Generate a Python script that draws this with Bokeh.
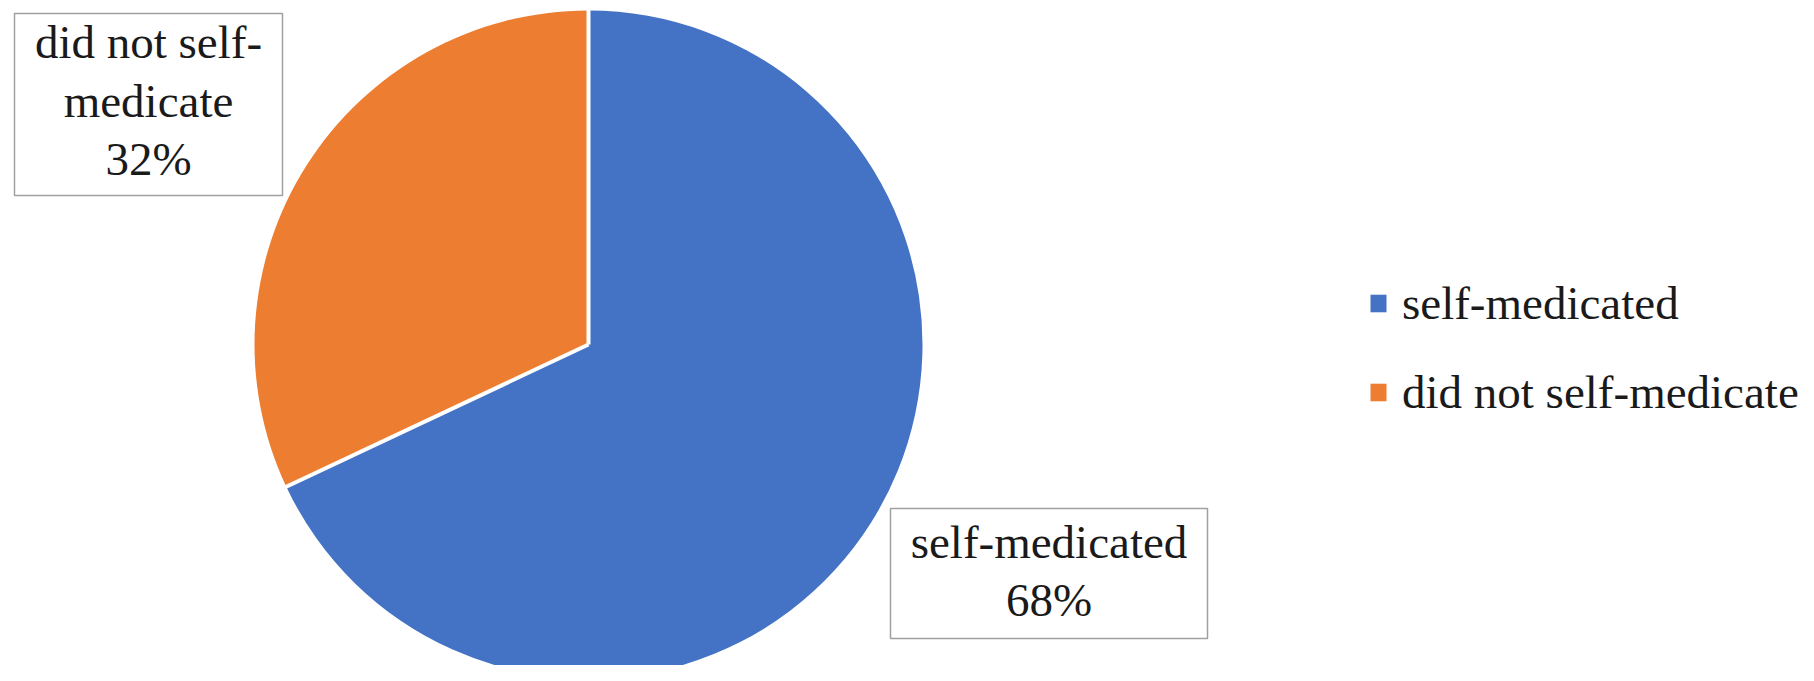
import numpy as np
from bokeh.plotting import figure
from bokeh.models import ColumnDataSource, Range1d, Legend, LegendItem
from bokeh.core.properties import value
from bokeh.embed import file_html
from bokeh.resources import INLINE

# ---- data ----
categories = ["self-medicated", "did not self-medicate"]
percents = [68, 32]
colors = ["#4472C4", "#ED7D31"]
label_texts = ["self-medicated", "did not self-\nmedicate"]

# ---- layout (pixels) ----
W, H = 1798, 665
cx, cy, R = 588, 321, 334
box_cx = [1048.5, 148]
box_cy = [92, 561]
box_w = [317, 268]
box_h = [130, 182]
text_cy = [94.5, 565]
FONT = "Liberation Serif"

fr = np.array(percents, dtype=float) / sum(percents)
before = np.concatenate([[0.0], np.cumsum(fr)[:-1]])
end_a = np.pi / 2 - before * 2 * np.pi
start_a = end_a - fr * 2 * np.pi

src = ColumnDataSource(dict(
    cat=categories, pct=percents, color=colors,
    start=start_a, end=end_a,
    x=[cx] * len(categories), y=[cy] * len(categories),
))

p = figure(width=W, height=H, x_range=Range1d(0, W), y_range=Range1d(0, H),
           x_axis_type=None, y_axis_type=None, toolbar_location=None,
           output_backend="svg", min_border=0, outline_line_color=None,
           background_fill_color="white", border_fill_color="white")
p.grid.visible = False

wr = p.wedge(x="x", y="y", radius=R, start_angle="start", end_angle="end",
             fill_color="color", line_color=None, source=src)

# white separators between slices
p.segment(x0=[cx] * len(categories), y0=[cy] * len(categories),
          x1=cx + (R + 3) * np.cos(start_a), y1=cy + (R + 3) * np.sin(start_a),
          line_color="white", line_width=4)

# data label boxes
p.rect(x=box_cx, y=box_cy, width=box_w, height=box_h, fill_color="white",
       line_color="#A0A0A0", line_width=1.5)
lab = [f"{t}\n{v}%" for t, v in zip(label_texts, percents)]
p.text(x=box_cx, y=text_cy, text=lab, text_align="center", text_baseline="middle",
       text_font=value(FONT), text_font_size="47px",
       text_color="#1a1a1a", text_line_height=1.125)

legend = Legend(items=[LegendItem(label=categories[i], renderers=[wr], index=i)
                       for i in range(len(categories))],
                location=(1368, 246), orientation="vertical",
                glyph_width=20, glyph_height=22, label_standoff=14, spacing=35,
                padding=0, margin=0, border_line_color=None,
                background_fill_alpha=0,
                label_text_font=FONT, label_text_font_size="47px",
                label_text_color="#1a1a1a")
p.add_layout(legend)

open("out.html", "w").write(file_html(p, INLINE))
